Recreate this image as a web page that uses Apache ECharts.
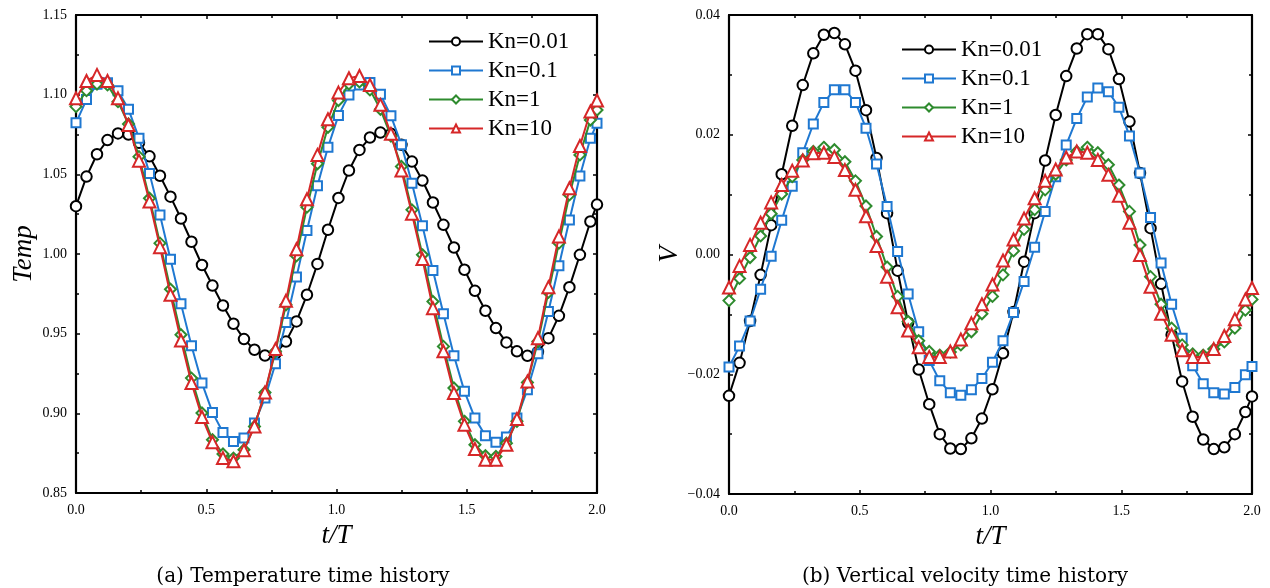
<!DOCTYPE html>
<html>
<head>
<meta charset="utf-8">
<script src="https://cdn.jsdelivr.net/npm/echarts@6/dist/echarts.min.js"></script>
<style>
html,body{margin:0;padding:0;background:#fff;}
#chart{width:1270px;height:588px;}
</style>
</head>
<body>
<div id="chart"></div>
<script>
// sample times t/T
const times = [0, 0.0403, 0.0806, 0.1209, 0.1612, 0.2015, 0.2418, 0.2821, 0.3224, 0.3627,
  0.403, 0.4433, 0.4836, 0.5239, 0.5642, 0.6045, 0.6448, 0.6851, 0.7254, 0.7657,
  0.806, 0.8463, 0.8866, 0.9269, 0.9672, 1.0075, 1.0478, 1.0881, 1.1284, 1.1687,
  1.209, 1.2493, 1.2896, 1.3299, 1.3702, 1.4105, 1.4508, 1.4911, 1.5314, 1.5717,
  1.612, 1.6523, 1.6926, 1.7329, 1.7732, 1.8135, 1.8538, 1.8941, 1.9344, 1.9747, 2.0];

const seriesNames = ['Kn=0.01', 'Kn=0.1', 'Kn=1', 'Kn=10'];

// (a) Temperature
const tempKn001 = [1.030, 1.0486, 1.0626, 1.0715, 1.0757, 1.0750, 1.0698, 1.0613, 1.0491, 1.0360,
  1.0223, 1.0077, 0.9931, 0.9802, 0.9677, 0.9562, 0.9466, 0.9399, 0.9363, 0.9375,
  0.9451, 0.9577, 0.9744, 0.9938, 1.0152, 1.0352, 1.0524, 1.0653, 1.0731, 1.0762,
  1.0754, 1.0685, 1.0580, 1.0461, 1.0323, 1.0183, 1.0041, 0.9901, 0.9769, 0.9644,
  0.9535, 0.9445, 0.9389, 0.9361, 0.9385, 0.9472, 0.9612, 0.9792, 0.9995, 1.0204, 1.0310];
const tempKn01 = [1.0823, 1.0969, 1.1065, 1.1075, 1.1024, 1.0908, 1.0727, 1.0506, 1.0245, 0.9967,
  0.9687, 0.9424, 0.9190, 0.9006, 0.8880, 0.8824, 0.8845, 0.8939, 0.9096, 0.9311,
  0.9570, 0.9855, 1.0147, 1.0428, 1.0670, 1.0870, 1.0998, 1.1060, 1.1076, 1.1002,
  1.0867, 1.0685, 1.0444, 1.0177, 0.9897, 0.9625, 0.9361, 0.9138, 0.8970, 0.8860,
  0.8818, 0.8851, 0.8970, 0.9148, 0.9374, 0.9639, 0.9926, 1.0214, 1.0490, 1.0726, 1.0820];
const tempKn1 = [1.0925, 1.1025, 1.1067, 1.1061, 1.0956, 1.0816, 1.0611, 1.0350, 1.0068, 0.9779,
  0.9493, 0.9221, 0.9002, 0.8834, 0.8745, 0.8719, 0.8772, 0.8918, 0.9131, 0.9389,
  0.9681, 0.9988, 1.0294, 1.0566, 1.0795, 1.0963, 1.1067, 1.1080, 1.1030, 1.0908,
  1.0740, 1.0549, 1.0277, 0.9995, 0.9702, 0.9420, 0.9159, 0.8950, 0.8803, 0.8734,
  0.8729, 0.8813, 0.8950, 0.9194, 0.9451, 0.9759, 1.0068, 1.0371, 1.0622, 1.0841, 1.0904];
const tempKn10 = [1.0977, 1.1086, 1.1124, 1.1086, 1.0977, 1.0810, 1.0586, 1.0329, 1.0043, 0.9744,
  0.9457, 0.9190, 0.8977, 0.8818, 0.8719, 0.8699, 0.8768, 0.8918, 0.9131, 0.9403,
  0.9706, 1.0030, 1.0344, 1.0622, 1.0846, 1.1013, 1.1103, 1.1117, 1.1061, 1.0936,
  1.0754, 1.0524, 1.0252, 0.9968, 0.9660, 0.9389, 0.9127, 0.8929, 0.8776, 0.8709,
  0.8709, 0.8803, 0.8964, 0.9200, 0.9472, 0.9792, 1.0110, 1.0413, 1.0678, 1.0894, 1.0963];

// (b) Vertical velocity
const vKn001 = [-0.0236, -0.0181, -0.0111, -0.0034, 0.0049, 0.0134, 0.0215, 0.0283, 0.0336, 0.0367,
  0.0370, 0.0351, 0.0307, 0.0241, 0.0161, 0.0069, -0.0027, -0.0114, -0.0192, -0.0250,
  -0.0300, -0.0324, -0.0325, -0.0307, -0.0274, -0.0225, -0.0165, -0.0096, -0.0012, 0.0069,
  0.0157, 0.0233, 0.0298, 0.0344, 0.0368, 0.0368, 0.0343, 0.0293, 0.0222, 0.0136,
  0.0044, -0.0049, -0.0134, -0.0212, -0.0271, -0.0309, -0.0325, -0.0322, -0.0300, -0.0263, -0.0237];
const vKn01 = [-0.0188, -0.0153, -0.0111, -0.0058, -0.0003, 0.0057, 0.0114, 0.0170, 0.0218, 0.0254,
  0.0275, 0.0275, 0.0254, 0.0211, 0.0151, 0.0080, 0.0005, -0.0066, -0.0129, -0.0177,
  -0.0211, -0.0231, -0.0235, -0.0226, -0.0207, -0.0180, -0.0144, -0.0097, -0.0045, 0.0012,
  0.0072, 0.0130, 0.0183, 0.0227, 0.0263, 0.0278, 0.0272, 0.0246, 0.0198, 0.0136,
  0.0062, -0.0014, -0.0083, -0.0140, -0.0186, -0.0216, -0.0231, -0.0233, -0.0222, -0.0201, -0.0187];
const vKn1 = [-0.0077, -0.0040, -0.0005, 0.0031, 0.0068, 0.0101, 0.0130, 0.0158, 0.0172, 0.0179,
  0.0175, 0.0155, 0.0123, 0.0081, 0.0030, -0.0021, -0.0070, -0.0112, -0.0144, -0.0162,
  -0.0168, -0.0163, -0.0151, -0.0129, -0.0099, -0.0070, -0.0034, 0.0006, 0.0042, 0.0075,
  0.0108, 0.0134, 0.0158, 0.0172, 0.0179, 0.0170, 0.0150, 0.0116, 0.0072, 0.0016,
  -0.0037, -0.0083, -0.0123, -0.0151, -0.0166, -0.0168, -0.0158, -0.0146, -0.0123, -0.0093, -0.0075];
const vKn10 = [-0.0055, -0.0019, 0.0016, 0.0053, 0.0087, 0.0116, 0.0140, 0.0157, 0.0169, 0.0170,
  0.0163, 0.0141, 0.0108, 0.0064, 0.0014, -0.0037, -0.0088, -0.0127, -0.0155, -0.0171,
  -0.0171, -0.0162, -0.0142, -0.0115, -0.0083, -0.0050, -0.0010, 0.0025, 0.0060, 0.0094,
  0.0123, 0.0142, 0.0162, 0.0172, 0.0170, 0.0158, 0.0133, 0.0098, 0.0053, -0.0001,
  -0.0054, -0.0099, -0.0134, -0.0160, -0.0171, -0.0171, -0.0158, -0.0136, -0.0108, -0.0075, -0.0056];

const tempYTicks = ['0.85', '0.90', '0.95', '1.00', '1.05', '1.10', '1.15'];
const vYTicks = ['\u22120.04', '\u22120.02', '0.00', '0.02', '0.04'];
const xTicks = ['0.0', '0.5', '1.0', '1.5', '2.0'];

const colors = ['#000000', '#1f78d1', '#2e8b2e', '#d62728'];
const symbols = ['emptyCircle', 'emptyRect', 'emptyDiamond', 'emptyTriangle'];
const symbolSizes = [10.5, 9, 11, 12];

const serif = 'Liberation Serif';
const chart = echarts.init(document.getElementById('chart'), null, {renderer: 'canvas'});

function xAxisDef(grid, pos) {
  const main = pos === 'bottom';
  return {
    type: 'value', gridIndex: grid, position: pos, min: 0, max: 2, interval: 0.5,
    axisLine: {show: true, onZero: false, lineStyle: {color: '#000', width: 2.2}},
    axisTick: {show: true, inside: true, length: 4, lineStyle: {color: '#000', width: 1.5}},
    minorTick: {show: true, splitNumber: 2, length: 3, lineStyle: {color: '#000', width: 1.5}},
    splitLine: {show: false},
    axisLabel: {show: main, margin: 10, color: '#000', fontFamily: serif, fontSize: 14,
      formatter: v => xTicks[Math.round(v / 0.5)]},
    name: main ? 't/T' : '', nameLocation: 'middle', nameGap: 29,
    nameTextStyle: {fontFamily: serif, fontStyle: 'italic', fontSize: 27, color: '#000'}
  };
}
function yAxisDef(grid, pos, min, max, interval, labels, name, gap) {
  const main = pos === 'left';
  return {
    type: 'value', gridIndex: grid, position: pos, min: min, max: max, interval: interval,
    axisLine: {show: true, onZero: false, lineStyle: {color: '#000', width: 2.2}},
    axisTick: {show: true, inside: true, length: 4, lineStyle: {color: '#000', width: 1.5}},
    minorTick: {show: true, splitNumber: 2, length: 3, lineStyle: {color: '#000', width: 1.5}},
    splitLine: {show: false},
    axisLabel: {show: main, margin: 9, color: '#000', fontFamily: serif, fontSize: 14,
      formatter: v => labels[Math.round((v - min) / interval)]},
    name: main ? name : '', nameLocation: 'middle', nameGap: gap,
    nameTextStyle: {fontFamily: serif, fontStyle: 'italic', fontSize: 27, color: '#000'}
  };
}

const tempSets = [tempKn001, tempKn01, tempKn1, tempKn10];
const vSets = [vKn001, vKn01, vKn1, vKn10];

const series = [];
[tempSets, vSets].forEach((sets, g) => {
  sets.forEach((vals, k) => {
    series.push({
      type: 'line', name: seriesNames[k], xAxisIndex: g * 2, yAxisIndex: g * 2,
      data: times.map((t, i) => [t, vals[i]]),
      symbol: symbols[k], symbolSize: symbolSizes[k], showAllSymbol: true,
      lineStyle: {color: colors[k], width: 2},
      itemStyle: {color: colors[k], borderColor: colors[k], borderWidth: 2},
      z: 2 + k, clip: true
    });
  });
});

const legendText = {fontFamily: serif, fontSize: 23, color: '#000', lineHeight: 22};
const option = {
  animation: false,
  backgroundColor: '#fff',
  grid: [
    {left: 76, top: 15, width: 521, height: 478},
    {left: 729, top: 15, width: 523, height: 479}
  ],
  xAxis: [xAxisDef(0, 'bottom'), xAxisDef(0, 'top'), xAxisDef(1, 'bottom'), xAxisDef(1, 'top')],
  yAxis: [
    yAxisDef(0, 'left', 0.85, 1.15, 0.05, tempYTicks, 'Temp', 39),
    yAxisDef(0, 'right', 0.85, 1.15, 0.05, tempYTicks, '', 0),
    yAxisDef(1, 'left', -0.04, 0.04, 0.02, vYTicks, 'V', 43),
    yAxisDef(1, 'right', -0.04, 0.04, 0.02, vYTicks, '', 0)
  ],
  legend: [
    {data: seriesNames, left: 428, top: 30, padding: 0, orient: 'vertical', itemWidth: 54, itemHeight: 10,
      itemGap: 6, textStyle: legendText},
    {data: seriesNames, left: 901, top: 38, padding: 0, orient: 'vertical', itemWidth: 54, itemHeight: 10,
      itemGap: 6, textStyle: legendText}
  ],
  graphic: [
    {type: 'text', style: {text: '(a) Temperature time history', x: 303, y: 577,
      align: 'center', verticalAlign: 'middle', font: '20px "DejaVu Serif"', fill: '#000'}},
    {type: 'text', style: {text: '(b) Vertical velocity time history', x: 965, y: 577,
      align: 'center', verticalAlign: 'middle', font: '20px "DejaVu Serif"', fill: '#000'}}
  ],
  series: series
};
chart.setOption(option);
</script>
</body>
</html>
